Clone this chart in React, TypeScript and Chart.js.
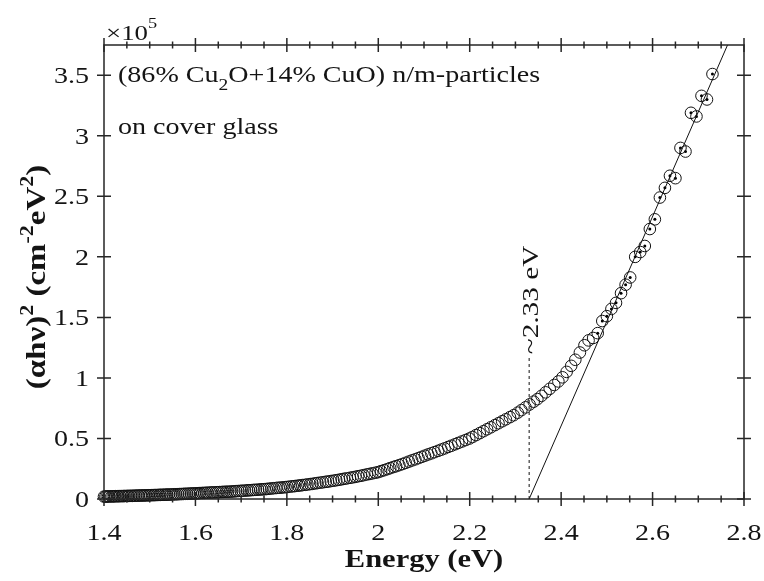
import React, { useEffect, useRef } from 'react';
import { Chart, registerables } from 'chart.js';

Chart.register(...registerables);

// Photon energy (eV)
const energy = [
  1.400, 1.403, 1.406, 1.409, 1.412, 1.416, 1.419, 1.422, 1.425, 1.429,
  1.432, 1.435, 1.439, 1.442, 1.445, 1.449, 1.452, 1.455, 1.459, 1.462,
  1.466, 1.469, 1.473, 1.476, 1.480, 1.483, 1.487, 1.490, 1.494, 1.498,
  1.501, 1.505, 1.509, 1.512, 1.516, 1.520, 1.523, 1.527, 1.531, 1.535,
  1.538, 1.542, 1.546, 1.550, 1.554, 1.558, 1.562, 1.566, 1.570, 1.574,
  1.578, 1.582, 1.586, 1.590, 1.594, 1.598, 1.602, 1.606, 1.610, 1.615,
  1.619, 1.623, 1.627, 1.632, 1.636, 1.640, 1.645, 1.649, 1.653, 1.658,
  1.662, 1.667, 1.671, 1.676, 1.680, 1.685, 1.689, 1.694, 1.699, 1.703,
  1.708, 1.713, 1.717, 1.722, 1.727, 1.732, 1.737, 1.742, 1.746, 1.751,
  1.756, 1.761, 1.766, 1.771, 1.777, 1.782, 1.787, 1.792, 1.797, 1.802,
  1.808, 1.813, 1.818, 1.824, 1.829, 1.834, 1.840, 1.845, 1.851, 1.856,
  1.862, 1.867, 1.873, 1.879, 1.885, 1.890, 1.896, 1.902, 1.908, 1.914,
  1.920, 1.925, 1.931, 1.938, 1.944, 1.950, 1.956, 1.962, 1.968, 1.975,
  1.981, 1.987, 1.994, 2.000, 2.006, 2.013, 2.020, 2.026, 2.033, 2.039,
  2.046, 2.053, 2.060, 2.067, 2.074, 2.081, 2.088, 2.095, 2.102, 2.109,
  2.116, 2.123, 2.131, 2.138, 2.145, 2.153, 2.160, 2.168, 2.175, 2.183,
  2.191, 2.199, 2.206, 2.214, 2.222, 2.230, 2.238, 2.246, 2.255, 2.263,
  2.271, 2.279, 2.288, 2.296, 2.305, 2.313, 2.322, 2.331, 2.340, 2.348,
  2.357, 2.366, 2.375, 2.385, 2.394, 2.403, 2.412, 2.422, 2.431, 2.441,
  2.451, 2.460, 2.470, 2.480, 2.490, 2.500, 2.510, 2.520, 2.531, 2.541,
  2.551, 2.562, 2.573, 2.583, 2.594, 2.605, 2.616, 2.627, 2.638, 2.650,
  2.661, 2.672, 2.684, 2.696, 2.707, 2.719, 2.731,
];

// (alpha h nu)^2 in units of 1e5 cm^-2 eV^2
const alphaHv2 = [
  0.020, 0.020, 0.021, 0.021, 0.021, 0.022, 0.022, 0.022, 0.023, 0.023,
  0.023, 0.024, 0.024, 0.024, 0.025, 0.025, 0.025, 0.026, 0.026, 0.026,
  0.027, 0.027, 0.028, 0.028, 0.029, 0.029, 0.029, 0.030, 0.030, 0.031,
  0.031, 0.032, 0.032, 0.033, 0.033, 0.034, 0.034, 0.035, 0.035, 0.036,
  0.036, 0.037, 0.037, 0.038, 0.039, 0.039, 0.040, 0.041, 0.041, 0.042,
  0.043, 0.043, 0.044, 0.045, 0.046, 0.046, 0.047, 0.048, 0.049, 0.050,
  0.050, 0.051, 0.052, 0.053, 0.054, 0.054, 0.055, 0.056, 0.057, 0.058,
  0.059, 0.060, 0.060, 0.061, 0.062, 0.063, 0.065, 0.066, 0.067, 0.068,
  0.069, 0.071, 0.072, 0.073, 0.075, 0.076, 0.077, 0.079, 0.080, 0.081,
  0.083, 0.085, 0.087, 0.089, 0.091, 0.093, 0.094, 0.096, 0.098, 0.100,
  0.103, 0.105, 0.107, 0.110, 0.112, 0.115, 0.117, 0.120, 0.123, 0.125,
  0.129, 0.132, 0.135, 0.138, 0.142, 0.144, 0.148, 0.151, 0.155, 0.159,
  0.163, 0.167, 0.170, 0.175, 0.179, 0.183, 0.188, 0.192, 0.197, 0.203,
  0.207, 0.212, 0.217, 0.222, 0.230, 0.238, 0.247, 0.255, 0.264, 0.271,
  0.280, 0.289, 0.299, 0.309, 0.319, 0.328, 0.338, 0.348, 0.358, 0.368,
  0.377, 0.387, 0.398, 0.408, 0.418, 0.430, 0.440, 0.452, 0.463, 0.475,
  0.487, 0.499, 0.512, 0.528, 0.544, 0.560, 0.576, 0.592, 0.610, 0.626,
  0.642, 0.658, 0.676, 0.692, 0.713, 0.734, 0.757, 0.781, 0.804, 0.825,
  0.852, 0.881, 0.910, 0.942, 0.971, 1.005, 1.050, 1.100, 1.150, 1.210,
  1.270, 1.310, 1.330, 1.370, 1.470, 1.510, 1.570, 1.620, 1.700, 1.770,
  1.830, 2.000, 2.040, 2.090, 2.230, 2.310, 2.490, 2.570, 2.670, 2.650,
  2.900, 2.870, 3.190, 3.160, 3.330, 3.300, 3.510,
];

// Linear (Tauc) fit and band-gap marker
const fitX = [2.33, 2.764];
const fitY = [0, 3.75];
const gapX = [2.33, 2.33];
const gapY = [0, 1.19];
const fitRegionStart = 2.475;

const xTicks = [1.4, 1.6, 1.8, 2.0, 2.2, 2.4, 2.6, 2.8];
const xTickLabels = ['1.4', '1.6', '1.8', '2', '2.2', '2.4', '2.6', '2.8'];
const yTicks = [0, 0.5, 1, 1.5, 2, 2.5, 3, 3.5];
const yTickLabels = ['0', '0.5', '1', '1.5', '2', '2.5', '3', '3.5'];
const xMin = 1.4;
const xMax = 2.8;
const yMin = 0;
const yMax = 3.75;
const xMinorStep = 0.05;

const SERIF = '"Liberation Serif", Tinos, "Times New Roman", Times, serif';
const STRETCH = 1.22;
const INK = '#141414';

type Seg = { t: string; size: number; bold?: boolean; dy?: number };

function fontOf(s: Seg) {
  return `${s.bold ? 'bold ' : ''}${s.size}px ${SERIF}`;
}

function richWidth(ctx: CanvasRenderingContext2D, segs: Seg[]) {
  let w = 0;
  for (const s of segs) {
    ctx.font = fontOf(s);
    w += ctx.measureText(s.t).width;
  }
  return w;
}

function drawRich(
  ctx: CanvasRenderingContext2D,
  segs: Seg[],
  x: number,
  y: number,
  angle: number,
  align: 'left' | 'center' | 'right'
) {
  ctx.save();
  ctx.translate(x, y);
  ctx.rotate(angle);
  ctx.scale(STRETCH, 1);
  ctx.fillStyle = INK;
  ctx.textBaseline = 'alphabetic';
  ctx.textAlign = 'left';
  const w = richWidth(ctx, segs);
  let cx = align === 'left' ? 0 : align === 'center' ? -w / 2 : -w;
  for (const s of segs) {
    ctx.font = fontOf(s);
    ctx.fillText(s.t, cx, s.dy || 0);
    cx += ctx.measureText(s.t).width;
  }
  ctx.restore();
}

const framePlugin = {
  id: 'frame',
  afterDatasetsDraw(chart: any) {
    const ctx: CanvasRenderingContext2D = chart.ctx;
    const { left, right, top, bottom } = chart.chartArea;
    const xs = chart.scales.x;
    const ys = chart.scales.y;
    ctx.save();
    ctx.strokeStyle = '#262626';
    ctx.lineWidth = 1.5;
    ctx.strokeRect(left, top, right - left, bottom - top);

    ctx.beginPath();
    const nMinor = Math.round((xMax - xMin) / xMinorStep);
    for (let i = 0; i <= nMinor; i++) {
      const px = xs.getPixelForValue(xMin + i * xMinorStep);
      ctx.moveTo(px, bottom - 3.5);
      ctx.lineTo(px, bottom + 3.5);
      ctx.moveTo(px, top - 3.5);
      ctx.lineTo(px, top + 3.5);
    }
    for (const v of xTicks) {
      const px = xs.getPixelForValue(v);
      ctx.moveTo(px, bottom - 7);
      ctx.lineTo(px, bottom + 7);
      ctx.moveTo(px, top - 7);
      ctx.lineTo(px, top + 7);
    }
    for (const v of yTicks) {
      const py = ys.getPixelForValue(v);
      ctx.moveTo(left - 7, py);
      ctx.lineTo(left + 7, py);
      ctx.moveTo(right - 7, py);
      ctx.lineTo(right + 7, py);
    }
    ctx.stroke();
    ctx.restore();

    xTicks.forEach((v, i) => {
      drawRich(ctx, [{ t: xTickLabels[i], size: 23 }], xs.getPixelForValue(v), bottom + 41, 0, 'center');
    });
    yTicks.forEach((v, i) => {
      drawRich(ctx, [{ t: yTickLabels[i], size: 23 }], left - 15, ys.getPixelForValue(v) + 8, 0, 'right');
    });

    drawRich(
      ctx,
      [
        { t: '\u00d710', size: 22 },
        { t: '5', size: 15, dy: -12 },
      ],
      left + 2,
      top - 5,
      0,
      'left'
    );

    drawRich(ctx, [{ t: 'Energy (eV)', size: 25, bold: true }], (left + right) / 2, bottom + 68, 0, 'center');
    drawRich(
      ctx,
      [
        { t: '(\u03b1h\u03bd)', size: 27, bold: true },
        { t: '2', size: 18, bold: true, dy: -12 },
        { t: ' (cm', size: 27, bold: true },
        { t: '-2', size: 18, bold: true, dy: -12 },
        { t: 'eV', size: 27, bold: true },
        { t: '2', size: 18, bold: true, dy: -12 },
        { t: ')', size: 27, bold: true },
      ],
      45,
      277,
      -Math.PI / 2,
      'center'
    );

    drawRich(
      ctx,
      [
        { t: '(86% Cu', size: 23 },
        { t: '2', size: 16, dy: 8 },
        { t: 'O+14% CuO) n/m-particles', size: 23 },
      ],
      left + 14,
      top + 37,
      0,
      'left'
    );
    drawRich(ctx, [{ t: 'on cover glass', size: 23 }], left + 14, top + 89, 0, 'left');

    const gx = xs.getPixelForValue(gapX[0]);
    const gy = ys.getPixelForValue(gapY[1]);
    drawRich(ctx, [{ t: '~2.33 eV', size: 24 }], gx + 9, gy - 55, -Math.PI / 2, 'center');
  },
};

export default function App() {
  const canvasRef = useRef<HTMLCanvasElement | null>(null);

  useEffect(() => {
    const canvas = canvasRef.current;
    if (!canvas) return;
    const pts = energy.map((x, i) => ({ x, y: alphaHv2[i] }));
    const dotPts = pts.filter((p) => p.x >= fitRegionStart);
    const chart = new Chart(canvas, {
      type: 'scatter',
      data: {
        datasets: [
          {
            label: 'fit',
            data: fitX.map((x, i) => ({ x, y: fitY[i] })),
            showLine: true,
            borderColor: '#111',
            borderWidth: 1,
            pointRadius: 0,
            clip: false as any,
          },
          {
            label: 'gap',
            data: gapX.map((x, i) => ({ x, y: gapY[i] })),
            showLine: true,
            borderColor: '#111',
            borderWidth: 1,
            borderDash: [3, 3],
            pointRadius: 0,
          },
          {
            label: 'data',
            data: pts,
            showLine: false,
            pointStyle: 'circle',
            pointRadius: 5.8,
            pointBorderWidth: 1,
            pointBorderColor: '#111',
            pointBackgroundColor: 'rgba(0,0,0,0)',
            clip: false as any,
          },
          {
            label: 'dots',
            data: dotPts,
            showLine: false,
            pointStyle: 'circle',
            pointRadius: 1.5,
            pointBorderWidth: 0,
            pointBackgroundColor: '#000',
          },
        ],
      },
      options: {
        responsive: false,
        animation: false,
        devicePixelRatio: 1,
        layout: { padding: { left: 104, right: 20, top: 45, bottom: 82 } },
        plugins: { legend: { display: false }, tooltip: { enabled: false } },
        scales: {
          x: { type: 'linear', min: xMin, max: xMax, display: false },
          y: { type: 'linear', min: yMin, max: yMax, display: false },
        },
      },
      plugins: [framePlugin as any],
    });
    return () => chart.destroy();
  }, []);

  return (
    <div style={{ position: 'fixed', left: 0, top: 0, width: 764, height: 581, background: '#fff' }}>
      <canvas ref={canvasRef} width={764} height={581} style={{ width: 764, height: 581, display: 'block' }} />
    </div>
  );
}
